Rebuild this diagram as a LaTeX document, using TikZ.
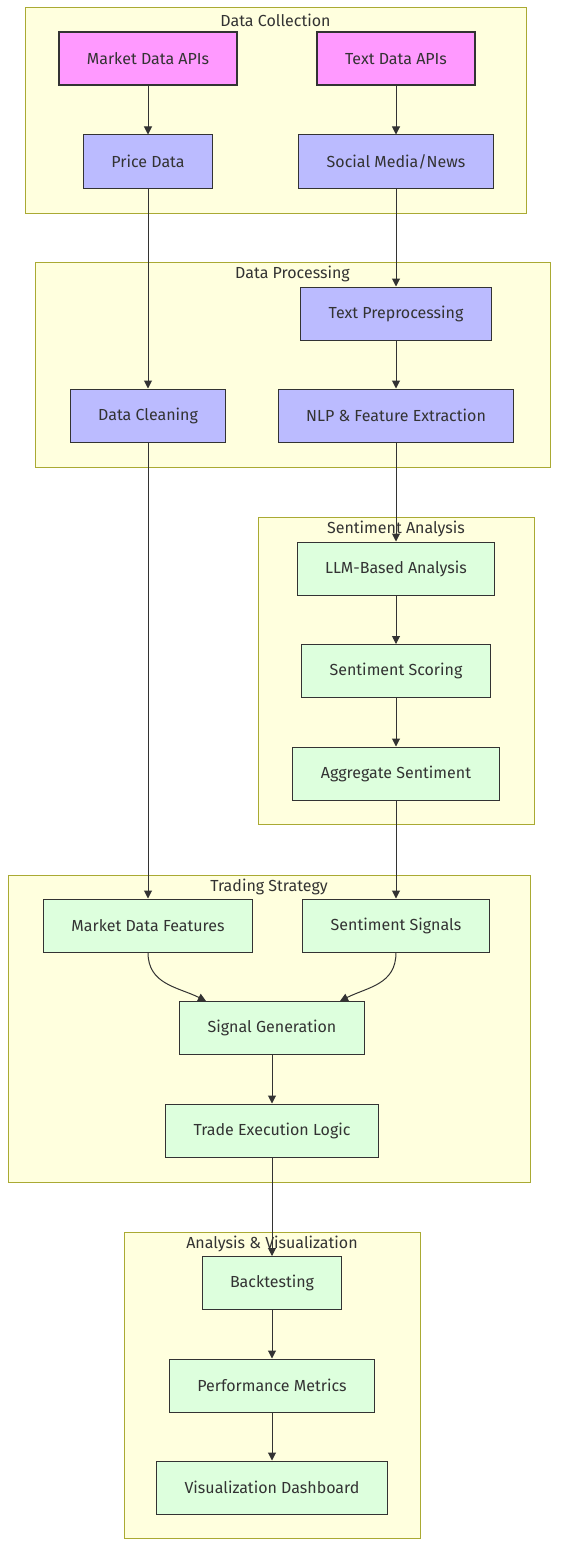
\documentclass[tikz,border=0pt]{standalone}
\usepackage{fontspec}
\setmainfont{Fira Sans}
\usetikzlibrary{arrows.meta}
\definecolor{ink}{HTML}{333333}
\definecolor{srcfill}{HTML}{FF99FF}
\definecolor{procfill}{HTML}{BBBBFF}
\definecolor{outfill}{HTML}{DDFFDD}
\definecolor{grpfill}{HTML}{FFFFDE}
\definecolor{grpline}{HTML}{AAAA33}
\tikzset{
  base/.style={draw=ink,text=ink,minimum height=53pt,inner xsep=28pt,font=\fontsize{16}{19}\selectfont},
  source/.style={base,fill=srcfill,line width=2pt},
  process/.style={base,fill=procfill,line width=1pt},
  result/.style={base,fill=outfill,line width=1pt},
  group/.style={draw=grpline,fill=grpfill,line width=1pt},
  grouptitle/.style={text=ink,font=\fontsize{16}{19}\selectfont},
  flow/.style={-{Triangle[length=8pt,width=8pt]},ink,line width=1pt}
}

\begin{document}
\begin{tikzpicture}[x=1pt,y=-1pt]
    \useasboundingbox (0,0) rectangle (566,1568);
    % groups
    \draw[group] (25,8) rectangle (526,213);
    \node[grouptitle] (tcollect) at (275.5,20) {Data Collection};
    \draw[group] (35,262) rectangle (550,467);
    \node[grouptitle] (tprocess) at (292.5,274) {Data Processing};
    \draw[group] (258,517) rectangle (534,824);
    \node[grouptitle] (tsent) at (396,529) {Sentiment Analysis};
    \draw[group] (8,875) rectangle (530,1182);
    \node[grouptitle] (ttrade) at (269,887) {Trading Strategy};
    \draw[group] (124,1232) rectangle (420,1538);
    \node[grouptitle] (tanalysis) at (272,1244) {Analysis \& Visualization};
    % nodes
    \node[source] (mapi) at (148,59) {Market Data APIs};
    \node[source] (tapi) at (396,59) {Text Data APIs};
    \node[process] (price) at (148,161.5) {Price Data};
    \node[process] (social) at (396,161.5) {Social Media/News};
    \node[process] (prep) at (396,313.5) {Text Preprocessing};
    \node[process] (clean) at (148,415.5) {Data Cleaning};
    \node[process] (nlp) at (396,415.5) {NLP \& Feature Extraction};
    \node[result] (llm) at (396,568.5) {LLM-Based Analysis};
    \node[result] (score) at (396,671) {Sentiment Scoring};
    \node[result] (aggr) at (396,773.5) {Aggregate Sentiment};
    \node[result] (mfeat) at (148,925.5) {Market Data Features};
    \node[result] (ssig) at (396,925.5) {Sentiment Signals};
    \node[result] (sgen) at (272,1028) {Signal Generation};
    \node[result] (exec) at (272,1130.5) {Trade Execution Logic};
    \node[result] (back) at (272,1283) {Backtesting};
    \node[result] (perf) at (272,1385.5) {Performance Metrics};
    \node[result] (dash) at (272,1487.5) {Visualization Dashboard};
    % edges
    \draw[flow] (mapi) -- (price);
    \draw[flow] (tapi) -- (social);
    \draw[flow] (price) -- (clean);
    \draw[flow] (social) -- (prep);
    \draw[flow] (prep) -- (nlp);
    \draw[flow] (clean) -- (mfeat);
    \draw[flow] (nlp) -- (llm);
    \draw[flow] (llm) -- (score);
    \draw[flow] (score) -- (aggr);
    \draw[flow] (aggr) -- (ssig);
    \draw[flow] (mfeat.south) .. controls +(0,32) and +(-28,-14) .. ([xshift=-66pt]sgen.north);
    \draw[flow] (ssig.south) .. controls +(0,32) and +(28,-14) .. ([xshift=68pt]sgen.north);
    \draw[flow] (sgen) -- (exec);
    \draw[flow] (exec) -- (back);
    \draw[flow] (back) -- (perf);
    \draw[flow] (perf) -- (dash);
  \end{tikzpicture}
\end{document}
